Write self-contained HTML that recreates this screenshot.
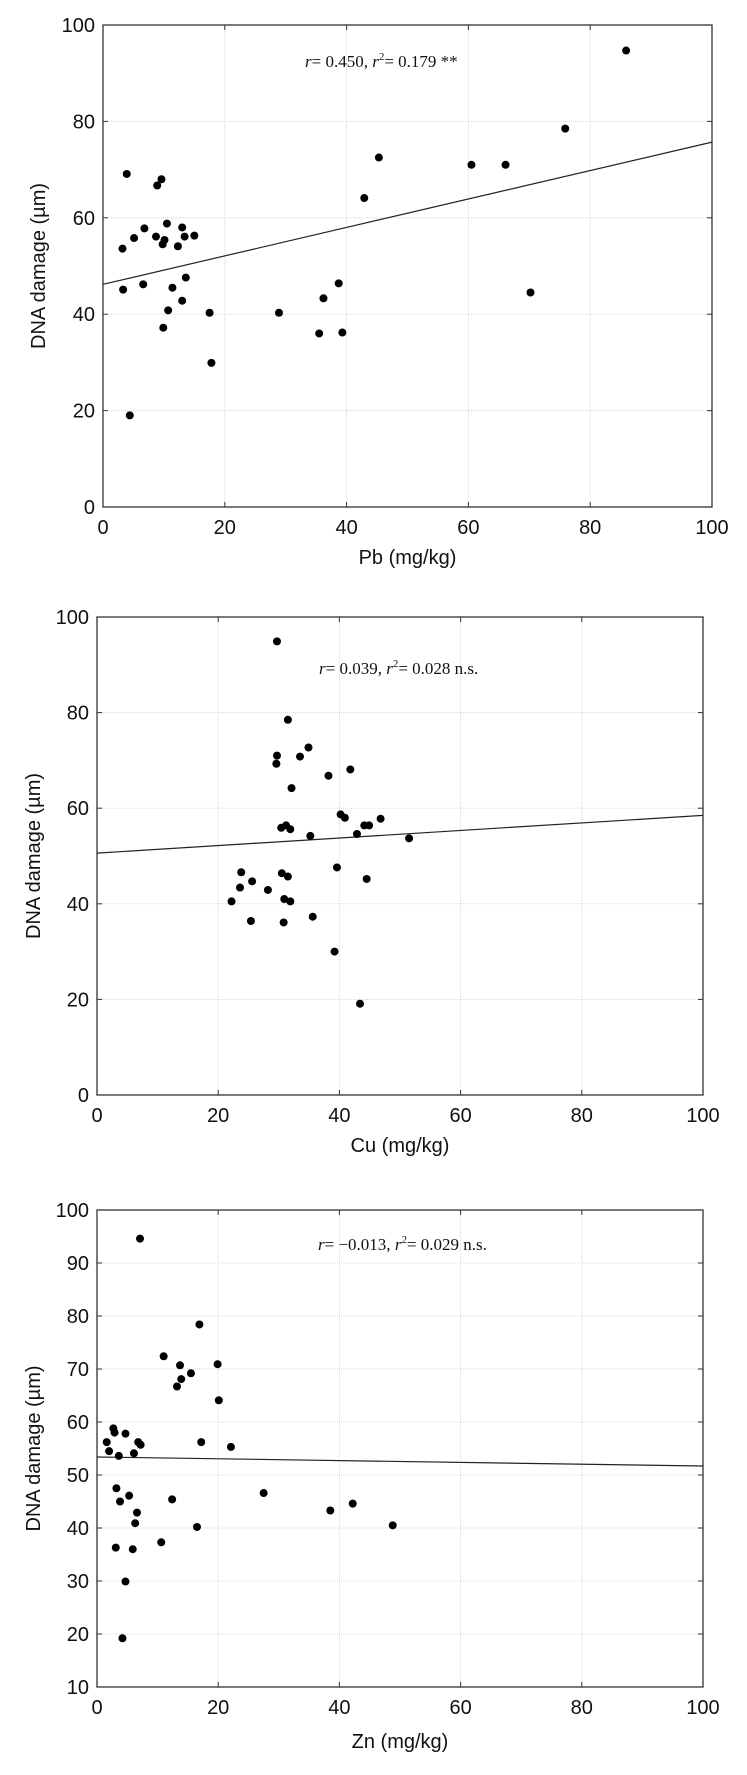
<!DOCTYPE html>
<html><head><meta charset="utf-8"><style>
body{margin:0;background:#fff;}
svg{display:block;}
.tick{font-family:"Liberation Sans",Arial,sans-serif;font-size:20px;fill:#111;}
.ttl{font-family:"Liberation Sans",Arial,sans-serif;font-size:20px;fill:#111;}
.ann{font-family:"Liberation Serif","Times New Roman",serif;font-size:17px;fill:#111;}
</style></head><body>
<svg id="fig" width="747" height="1775" viewBox="0 0 747 1775" xmlns="http://www.w3.org/2000/svg"></svg>
<script>
const pbX=[3.2,3.9,3.3,4.4,5.1,6.8,6.6,8.7,8.9,9.6,9.8,10.1,10.5,9.9,10.7,11.4,12.3,13.0,13.0,13.4,13.6,15.0,17.5,17.8,28.9,35.5,36.2,38.7,39.3,42.9,45.3,60.5,66.1,70.2,75.9,85.9];
const pbY=[53.6,69.1,45.1,19.0,55.8,57.8,46.2,56.1,66.7,68.0,54.5,55.4,58.8,37.2,40.8,45.5,54.1,58.0,42.8,56.1,47.6,56.3,40.3,29.9,40.3,36.0,43.3,46.4,36.2,64.1,72.5,71.0,71.0,44.5,78.5,94.7];
const pbFit=[46.2,75.7];
const cuX=[29.7,31.5,34.9,29.7,33.5,29.6,38.2,41.8,32.1,40.2,40.9,46.8,30.4,31.2,31.9,44.1,44.9,35.2,42.9,51.5,39.6,23.8,30.5,31.5,44.5,23.6,25.6,28.2,22.2,30.9,31.9,35.6,25.4,30.8,39.2,43.4];
const cuY=[94.9,78.5,72.7,71.0,70.8,69.3,66.8,68.1,64.2,58.7,58.0,57.8,55.9,56.4,55.6,56.4,56.4,54.2,54.6,53.7,47.6,46.6,46.4,45.7,45.2,43.4,44.7,42.9,40.5,41.0,40.5,37.3,36.4,36.1,30.0,19.1];
const cuFit=[50.6,58.5];
const znX=[7.1,16.9,11.0,19.9,13.7,15.5,13.9,13.2,20.1,2.7,2.9,4.7,1.6,6.8,7.2,17.2,22.1,2.0,6.1,3.6,3.2,5.3,3.8,12.4,27.5,38.5,42.2,6.6,6.3,16.5,10.6,3.1,5.9,4.7,4.2,48.8];
const znY=[94.6,78.4,72.4,70.9,70.7,69.2,68.1,66.7,64.1,58.8,58.0,57.8,56.2,56.2,55.7,56.2,55.3,54.5,54.1,53.6,47.5,46.1,45.0,45.4,46.6,43.3,44.6,42.9,40.9,40.2,37.3,36.3,36.0,29.9,19.2,40.5];
const znFit=[53.4,51.7];
const xTicks=[0,20,40,60,80,100];
const yTicks1=[0,20,40,60,80,100];
const yTicks3=[10,20,30,40,50,60,70,80,90,100];

const NS="http://www.w3.org/2000/svg";
const svg=document.getElementById('fig');
function mk(tag,attrs,parent){const e=document.createElementNS(NS,tag);for(const k in attrs)e.setAttribute(k,attrs[k]);(parent||svg).appendChild(e);return e;}

function panel(o){
  const g=mk('g',{});
  
  
  const sx=v=>o.x0+(v-o.xmin)/(o.xmax-o.xmin)*(o.x1-o.x0);
  const sy=v=>o.y0-(v-o.ymin)/(o.ymax-o.ymin)*(o.y0-o.y1);
  // grid
  xTicks.forEach(t=>{
    if(t>o.xmin&&t<o.xmax){const l=mk('line',{x1:sx(t),x2:sx(t),y1:o.y1,y2:o.y0,stroke:'#d8d8d8','stroke-dasharray':'1,1','stroke-width':1},g);
    }
    const tk=mk('line',{x1:sx(t),x2:sx(t),y1:o.y0,y2:o.y0-5,stroke:'#333','stroke-width':1},g);
    const tk2=mk('line',{x1:sx(t),x2:sx(t),y1:o.y1,y2:o.y1+5,stroke:'#333','stroke-width':1},g);
    const tx=mk('text',{x:sx(t),y:o.y0+27,'text-anchor':'middle',class:'tick'},g);
    tx.textContent=t;
    
  });
  o.yt.forEach(t=>{
    if(t>o.ymin&&t<o.ymax){const l=mk('line',{x1:o.x0,x2:o.x1,y1:sy(t),y2:sy(t),stroke:'#d8d8d8','stroke-dasharray':'1,1','stroke-width':1},g);
    }
    mk('line',{x1:o.x0,x2:o.x0+5,y1:sy(t),y2:sy(t),stroke:'#333','stroke-width':1},g);
    mk('line',{x1:o.x1,x2:o.x1-5,y1:sy(t),y2:sy(t),stroke:'#333','stroke-width':1},g);
    const tx=mk('text',{x:o.x0-8,y:sy(t)+7,'text-anchor':'end',class:'tick'},g);
    tx.textContent=t;
    
  });
  const fr=mk('rect',{x:o.x0,y:o.y1,width:o.x1-o.x0,height:o.y0-o.y1,fill:'none',stroke:'#333','stroke-width':1.3},g);
  
  const fl=mk('line',{x1:sx(o.xmin),y1:sy(o.fit[0]),x2:sx(o.xmax),y2:sy(o.fit[1]),stroke:'#222','stroke-width':1.2},g);
  
  o.xs.forEach((v,i)=>{
    const c=mk('circle',{cx:sx(v),cy:sy(o.ys[i]),r:4,fill:'#000'},g);
    
    
  });
  const xt=mk('text',{x:(o.x0+o.x1)/2,y:o.xtY,'text-anchor':'middle',class:'ttl'},g);
  xt.textContent=o.xtitle;
  
  const yc=(o.y0+o.y1)/2;
  const yt=mk('text',{x:o.ytX,y:yc,'text-anchor':'middle',class:'ttl',transform:`rotate(-90 ${o.ytX} ${yc})`},g);
  yt.textContent='DNA damage (µm)';
  
  const an=mk('text',{x:o.annX,y:o.annY,class:'ann'},g);
  an.innerHTML=o.ann;
  
}
panel({name:'pb-panel',x0:103,x1:712,y0:507,y1:25,xmin:0,xmax:100,ymin:0,ymax:100,yt:yTicks1,xs:pbX,ys:pbY,fit:pbFit,xtitle:'Pb (mg/kg)',xtY:564,ytX:45,
  ann:'<tspan font-style="italic">r</tspan>= 0.450, <tspan font-style="italic">r</tspan><tspan font-size="11" dy="-7">2</tspan><tspan dy="7">= 0.179 **</tspan>',annX:305,annY:67});
panel({name:'cu-panel',x0:97,x1:703,y0:1095,y1:617,xmin:0,xmax:100,ymin:0,ymax:100,yt:yTicks1,xs:cuX,ys:cuY,fit:cuFit,xtitle:'Cu (mg/kg)',xtY:1152,ytX:40,
  ann:'<tspan font-style="italic">r</tspan>= 0.039, <tspan font-style="italic">r</tspan><tspan font-size="11" dy="-7">2</tspan><tspan dy="7">= 0.028 n.s.</tspan>',annX:319,annY:674});
panel({name:'zn-panel',x0:97,x1:703,y0:1687,y1:1210,xmin:0,xmax:100,ymin:10,ymax:100,yt:yTicks3,xs:znX,ys:znY,fit:znFit,xtitle:'Zn (mg/kg)',xtY:1748,ytX:40,
  ann:'<tspan font-style="italic">r</tspan>= −0.013, <tspan font-style="italic">r</tspan><tspan font-size="11" dy="-7">2</tspan><tspan dy="7">= 0.029 n.s.</tspan>',annX:318,annY:1250});
</script>
</body></html>
